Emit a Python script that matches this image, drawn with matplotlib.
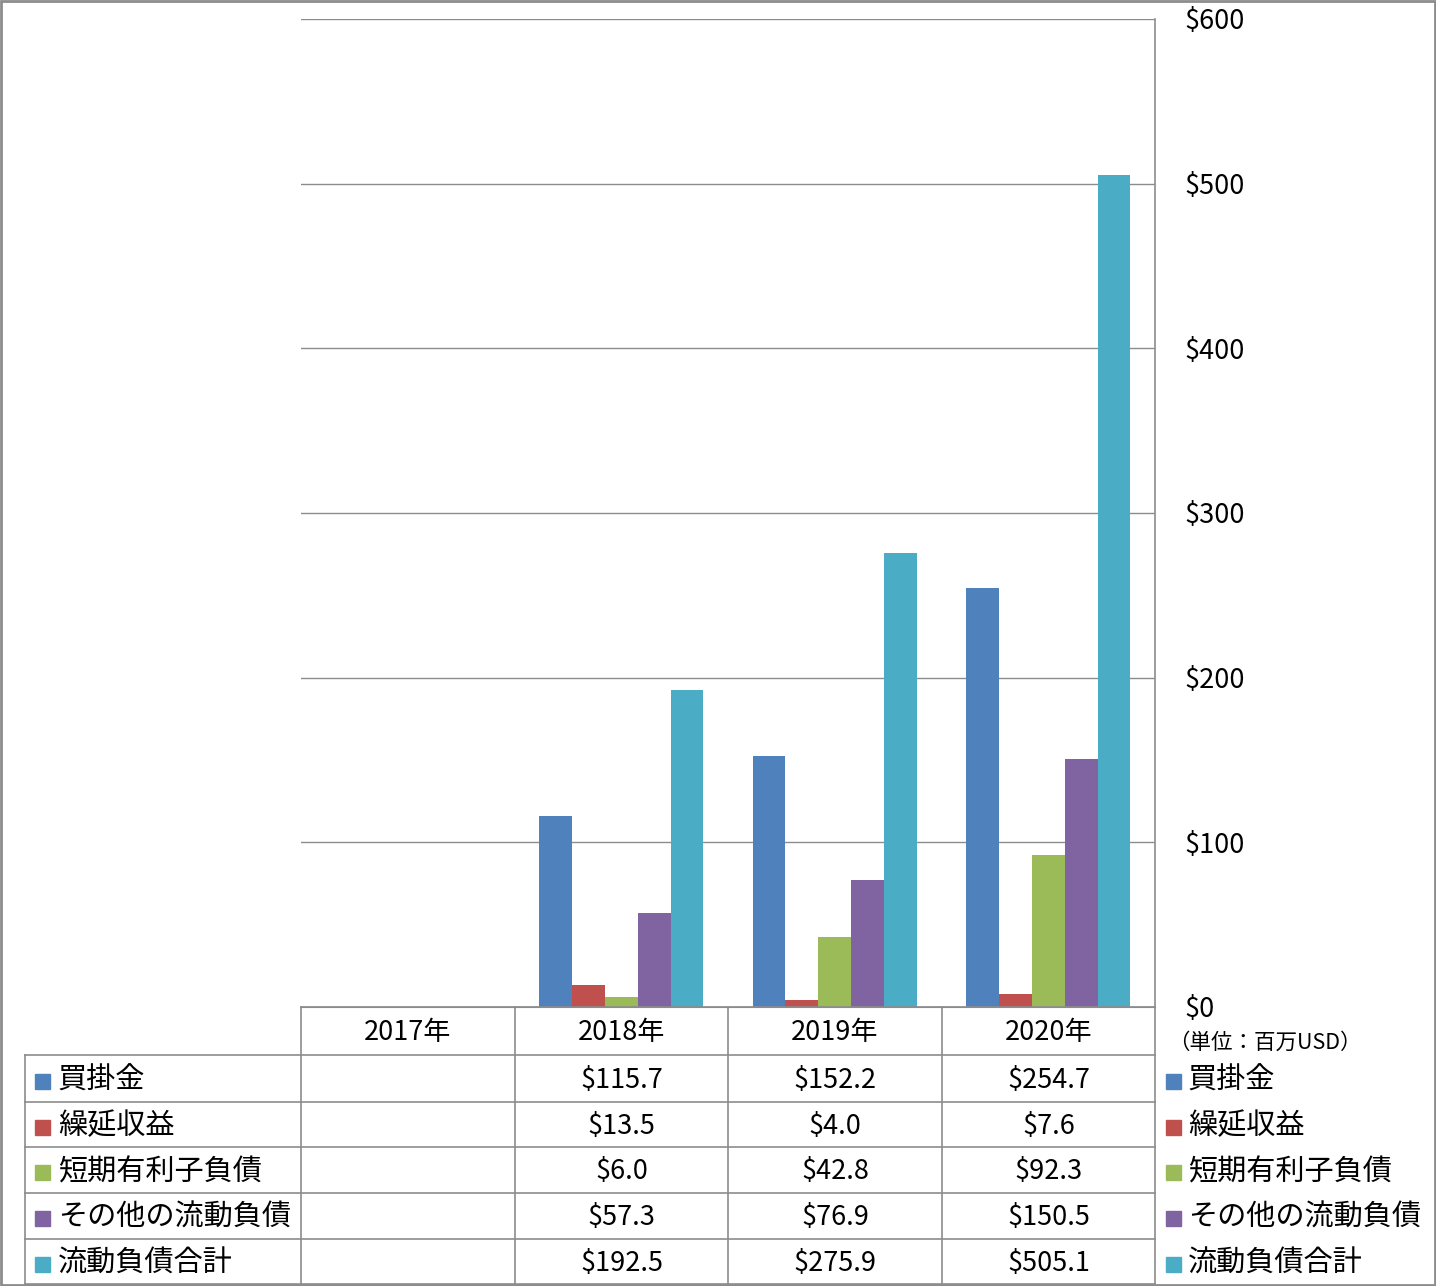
import numpy as np
import matplotlib.pyplot as plt
from matplotlib.patches import Rectangle

plt.rcParams['font.family'] = ['Noto Sans CJK JP', 'DejaVu Sans']

years = ['2017年', '2018年', '2019年', '2020年']
series_names = ['買掛金', '繰延収益', '短期有利子負債', 'その他の流動負債', '流動負債合計']
accounts_payable = [np.nan, 115.7, 152.2, 254.7]
deferred_revenue = [np.nan, 13.5, 4.0, 7.6]
short_term_debt = [np.nan, 6.0, 42.8, 92.3]
other_current = [np.nan, 57.3, 76.9, 150.5]
total_current = [np.nan, 192.5, 275.9, 505.1]
series_values = [accounts_payable, deferred_revenue, short_term_debt, other_current, total_current]
colors = ['#4F81BD', '#C0504D', '#9BBB59', '#8064A2', '#4BACC6']
y_ticks = [0, 100, 200, 300, 400, 500, 600]
unit_label = '（単位：百万USD）'

W, H = 1436, 1286
fig = plt.figure(figsize=(W / 100, H / 100), dpi=100)


def fx(x):
    return x / W


def fy(y):
    return 1 - y / H


line_c = '#8c8c8c'

# plot area
left, right, top, bottom = 301, 1155, 19, 1007
ax = fig.add_axes([fx(left), fy(bottom), (right - left) / W, (bottom - top) / H])
n = len(series_names)
bw = 1 / (n + 1.5)
x = np.arange(len(years))
for i, (vals, c) in enumerate(zip(series_values, colors)):
    ax.bar(x + (i - (n - 1) / 2) * bw, vals, width=bw, color=c, zorder=3)
ax.set_xlim(-0.5, len(years) - 0.5)
ax.set_ylim(0, 600)
ax.set_yticks(y_ticks)
ax.set_yticklabels([f'${v}' for v in y_ticks], fontsize=19.5)
ax.yaxis.tick_right()
ax.tick_params(axis='y', length=0, pad=21)
ax.set_xticks([])
ax.grid(axis='y', color=line_c, linewidth=1, zorder=0)
for s in ['top', 'left', 'right']:
    ax.spines[s].set_visible(False)
ax.spines['bottom'].set_color(line_c)

# table lines in figure pixels
def hline(y, x0, x1):
    fig.add_artist(plt.Line2D([fx(x0), fx(x1)], [fy(y), fy(y)], color=line_c, lw=1.2))


def vline(x0, y0, y1):
    fig.add_artist(plt.Line2D([fx(x0), fx(x0)], [fy(y0), fy(y1)], color=line_c, lw=1.2))


col_edges = [301, 515, 728, 942, 1155]
row_edges = [1055, 1102, 1147, 1193, 1239, 1284]
hline(1007, 301, 1155)
for y in row_edges:
    hline(y, 25, 1155)
vline(25, 1055, 1284)
for xe in col_edges[:-1]:
    vline(xe, 1007, 1284)
vline(1155, 19, 1284)

col_centers = [(a + b) / 2 for a, b in zip(col_edges[:-1], col_edges[1:])]
for cx, yr in zip(col_centers, years):
    fig.text(fx(cx), fy(1033), yr, ha='center', va='center', fontsize=19.5)

for r, (name, vals, c) in enumerate(zip(series_names, series_values, colors)):
    cy = (row_edges[r] + row_edges[r + 1]) / 2 + 2
    # left legend key
    fig.add_artist(Rectangle((fx(35), fy(cy + 8)), 15 / W, 15 / H, color=c, transform=fig.transFigure))
    fig.text(fx(58), fy(cy), name, ha='left', va='center', fontsize=21)
    for cx, v in zip(col_centers, vals):
        if not np.isnan(v):
            fig.text(fx(cx), fy(cy), f'${v:.1f}', ha='center', va='center', fontsize=19.5)
    # right legend
    fig.add_artist(Rectangle((fx(1166), fy(cy + 8)), 15 / W, 15 / H, color=c, transform=fig.transFigure))
    fig.text(fx(1188), fy(cy), name, ha='left', va='center', fontsize=21)

fig.text(fx(1168), fy(1043), unit_label, ha='left', va='center', fontsize=15.5)

# outer border
fig.add_artist(Rectangle((0.0005, 0.0005), 0.999, 0.999, fill=False, edgecolor='#8c8c8c',
                         lw=2, transform=fig.transFigure))

fig.savefig('out.png', dpi=100)
